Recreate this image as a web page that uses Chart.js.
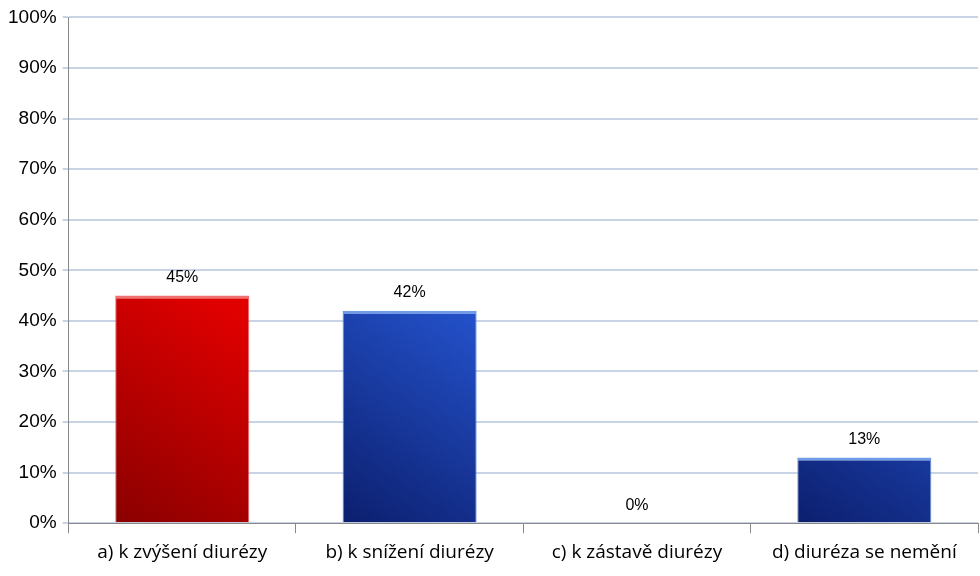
<!DOCTYPE html>
<html><head><meta charset="utf-8">
<script src="https://cdn.jsdelivr.net/npm/chart.js@4.4.0/dist/chart.umd.min.js"></script>
<style>html,body{margin:0;padding:0;background:#fff}#w{width:980px;height:576px}</style>
</head><body><div id="w"><canvas id="c"></canvas></div>
<script>
const categories = ["a) k zvýšení diurézy","b) k snížení diurézy","c) k zástavě diurézy","d) diuréza se nemění"];
const values = [45, 42, 0, 13];
const barColors = [["#8a0000","#e00000"],["#0c1f6e","#2350c8"],["#0c1f6e","#2350c8"],["#0c1f6e","#2350c8"]];

const labelPlugin = {
  id:'lbl',
  afterDatasetsDraw(chart){
    const ctx = chart.ctx, meta = chart.getDatasetMeta(0);
    ctx.save();
    ctx.font = '16px "Liberation Sans", Arial';
    ctx.fillStyle = '#000'; ctx.textAlign='center'; ctx.textBaseline='bottom';
    meta.data.forEach((b,i)=>{ ctx.fillText(values[i]+'%', b.x, b.y-10); });
    ctx.restore();
  }
};

new Chart(document.getElementById('c'), {
  type:'bar',
  data:{labels:categories, datasets:[{data:values,
    backgroundColor:(c)=>{
      const ch=c.chart, a=ch.chartArea, sx=ch.scales.x;
      const fallback = barColors[c.dataIndex][1];
      if(!a || !sx) return fallback;
      const x = sx.getPixelForValue(c.dataIndex);
      if(!isFinite(x)) return fallback;
      const w = 132;
      const g = ch.ctx.createLinearGradient(x-w/2, a.bottom, x+w/2, a.bottom-200);
      g.addColorStop(0, barColors[c.dataIndex][0]); g.addColorStop(1, barColors[c.dataIndex][1]);
      return g;
    },
    borderColor:(c)=> c.dataIndex===0 ? '#f07070' : '#6f9be8',
    borderWidth:{top:3,left:1,right:1,bottom:0},
    borderSkipped:false,
    categoryPercentage:1, barPercentage:0.59}]},
  options:{
    responsive:true, maintainAspectRatio:false, animation:false,
    layout:{padding:{top:10,right:2,left:2,bottom:4}},
    plugins:{legend:{display:false}, tooltip:{enabled:false}},
    scales:{
      y:{min:0,max:100,ticks:{stepSize:10,callback:v=>v+'%',color:'#000',font:{size:19,family:'"Liberation Sans", Arial'},padding:6},
         grid:{color:'#c9d3e6',lineWidth:2,drawTicks:true,tickLength:6},border:{color:'#888'}},
      x:{ticks:{color:'#000',font:{size:19,family:'"Open Sans", Arial'},padding:8,maxRotation:0},
         grid:{display:true,drawOnChartArea:false,offset:true,tickLength:10,color:'#888'},border:{color:'#888'}}
    }
  },
  plugins:[labelPlugin]
});
</script></body></html>
